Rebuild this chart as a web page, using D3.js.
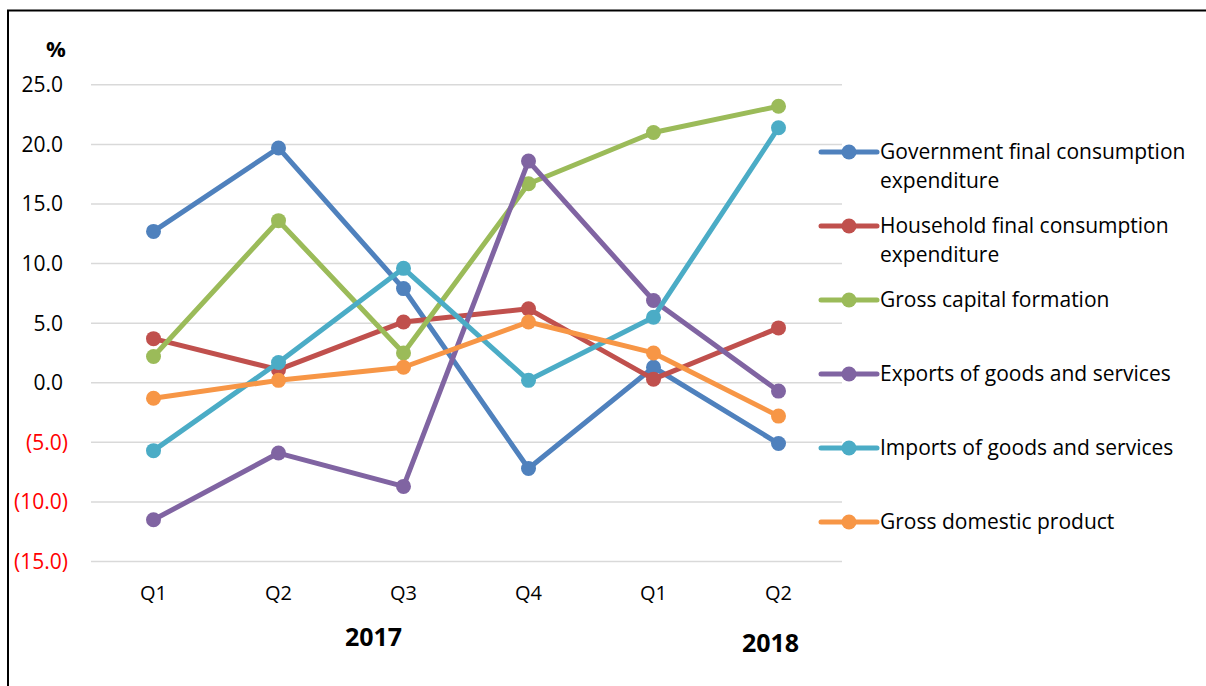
<!DOCTYPE html>
<html>
<head>
<meta charset="utf-8">
<script src="https://cdn.jsdelivr.net/npm/d3@7"></script>
<style>
  body { margin: 0; background: #fff; }
  text { font-family: "Open Sans", "Noto Sans", sans-serif; }
</style>
</head>
<body>
<div id="chart"></div>
<script>
// quarters on the x axis
const quarters = ["2017 Q1", "2017 Q2", "2017 Q3", "2017 Q4", "2018 Q1", "2018 Q2"]
const quarterLabels = ["Q1", "Q2", "Q3", "Q4", "Q1", "Q2"]
const yearLabels = ["2017", "2018"]

// series values (%)
const government = [12.7, 19.7, 7.9, -7.2, 1.3, -5.1]
const household = [3.7, 1.1, 5.1, 6.2, 0.3, 4.6]
const grossCapital = [2.2, 13.6, 2.5, 16.7, 21.0, 23.2]
const exportsGS = [-11.5, -5.9, -8.7, 18.6, 6.9, -0.7]
const importsGS = [-5.7, 1.7, 9.6, 0.2, 5.5, 21.4]
const gdp = [-1.3, 0.2, 1.3, 5.1, 2.5, -2.8]

const seriesNames = [
  ["Government final consumption", "expenditure"],
  ["Household final consumption", "expenditure"],
  ["Gross capital formation"],
  ["Exports of goods and services"],
  ["Imports of goods and services"],
  ["Gross domestic product"]
]
const seriesValues = [government, household, grossCapital, exportsGS, importsGS, gdp]
const colors = ["#4F81BD", "#C0504D", "#9BBB59", "#8064A2", "#4BACC6", "#F79646"]

const yTicks = [25, 20, 15, 10, 5, 0, -5, -10, -15]

const width = 1206
const height = 686

const svg = d3.select("#chart").append("svg")
  .attr("width", width)
  .attr("height", height)

// outer chart border (only top and left show in the frame)
svg.append("rect")
  .attr("x", 8).attr("y", 10.5)
  .attr("width", 1220).attr("height", 700)
  .attr("fill", "none")
  .attr("stroke", "#000")
  .attr("stroke-width", 2)

const x = d3.scalePoint()
  .domain(quarters)
  .range([91, 841])
  .padding(0.5)

const y = d3.scaleLinear()
  .domain([-15, 25])
  .range([561.5, 84.8])

// gridlines
svg.append("g")
  .selectAll("line")
  .data(yTicks)
  .join("line")
  .attr("x1", 91).attr("x2", 842)
  .attr("y1", d => y(d)).attr("y2", d => y(d))
  .attr("stroke", "#D9D9D9")
  .attr("stroke-width", 1.5)

// y axis labels, negatives in red with brackets
const fmt = d3.format(".1f")
svg.append("g")
  .selectAll("text")
  .data(yTicks)
  .join("text")
  .attr("x", d => d < 0 ? 68 : 63)
  .attr("y", d => y(d))
  .attr("dy", "0.35em")
  .attr("text-anchor", "end")
  .attr("font-size", 21)
  .attr("fill", d => d < 0 ? "#FF0000" : "#000")
  .text(d => d < 0 ? `(${fmt(-d)})` : fmt(d))

svg.append("text")
  .attr("x", 56).attr("y", 49)
  .attr("dy", "0.35em")
  .attr("text-anchor", "middle")
  .attr("font-size", 22)
  .attr("font-weight", "bold")
  .text("%")

// x axis labels
svg.append("g")
  .selectAll("text")
  .data(quarters)
  .join("text")
  .attr("x", d => x(d))
  .attr("y", 593)
  .attr("dy", "0.35em")
  .attr("text-anchor", "middle")
  .attr("font-size", 20)
  .text((d, i) => quarterLabels[i])

// year labels
svg.append("text")
  .attr("x", x(quarters[2]) - 30).attr("y", 637)
  .attr("dy", "0.35em")
  .attr("text-anchor", "middle")
  .attr("font-size", 25)
  .attr("font-weight", "bold")
  .text(yearLabels[0])
svg.append("text")
  .attr("x", x(quarters[5]) - 8).attr("y", 643)
  .attr("dy", "0.35em")
  .attr("text-anchor", "middle")
  .attr("font-size", 25)
  .attr("font-weight", "bold")
  .text(yearLabels[1])

// lines and markers
const line = d3.line()
  .x((d, i) => x(quarters[i]))
  .y(d => y(d))

const seriesG = svg.append("g")
  .selectAll("g")
  .data(seriesValues)
  .join("g")

seriesG.append("path")
  .attr("d", d => line(d))
  .attr("fill", "none")
  .attr("stroke", (d, i) => colors[i])
  .attr("stroke-width", 5)
  .attr("stroke-linejoin", "round")

seriesG.each(function(vals, si) {
  d3.select(this).selectAll("circle")
    .data(vals)
    .join("circle")
    .attr("cx", (d, i) => x(quarters[i]))
    .attr("cy", d => y(d))
    .attr("r", 7.5)
    .attr("fill", colors[si])
})

// legend
const legend = svg.append("g")
  .selectAll("g")
  .data(seriesNames)
  .join("g")
  .attr("transform", (d, i) => `translate(821 ${152 + i * 74})`)

legend.append("line")
  .attr("x1", 0).attr("x2", 56)
  .attr("stroke", (d, i) => colors[i])
  .attr("stroke-width", 5)
  .attr("stroke-linecap", "round")
legend.append("circle")
  .attr("cx", 28).attr("r", 7.5)
  .attr("fill", (d, i) => colors[i])

legend.each(function(lines) {
  d3.select(this).selectAll("text")
    .data(lines)
    .join("text")
    .attr("x", 59)
    .attr("y", (d, i) => i * 29)
    .attr("dy", "0.35em")
    .attr("font-size", 21)
    .text(d => d)
})
</script>
</body>
</html>
